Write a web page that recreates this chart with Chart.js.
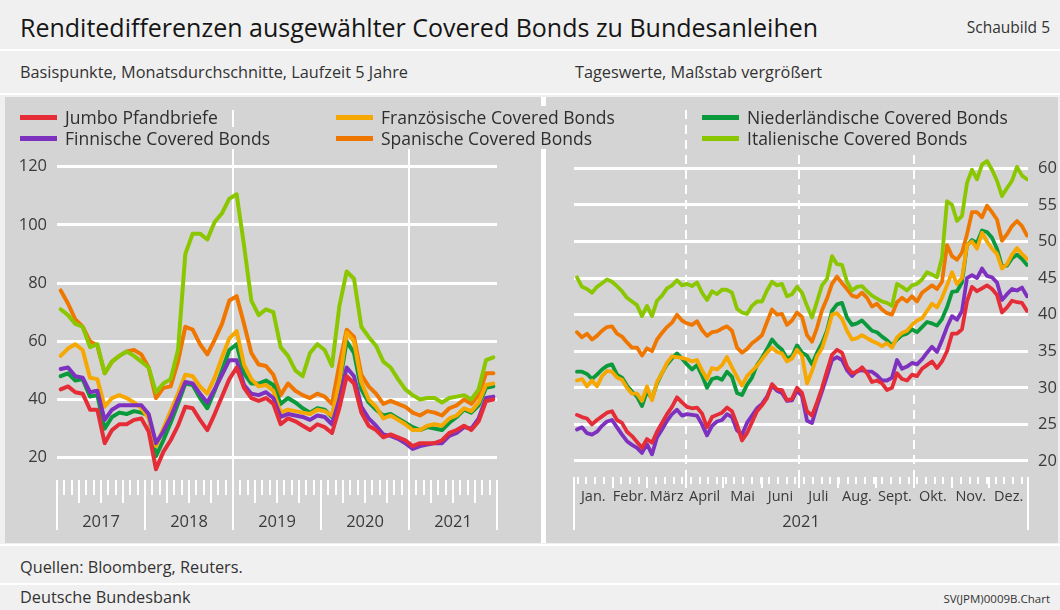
<!DOCTYPE html>
<html lang="de">
<head>
<meta charset="utf-8">
<script src="https://cdn.jsdelivr.net/npm/chart.js@4.4.1/dist/chart.umd.min.js"></script>
<style>
  body { margin: 0; width: 1060px; height: 610px; background: #f0f0f0; position: relative; overflow: hidden;
         font-family: 'Open Sans', 'Noto Sans', sans-serif; color: #333; }
  .abs { position: absolute; white-space: nowrap; }
  .linie { position: absolute; left: 0; width: 1060px; height: 2px; background: #fff; }
  #feld { position: absolute; left: 5px; top: 97px; width: 1053px; height: 446px; background: #d4d4d4; }
  #trenner { position: absolute; left: 541px; top: 97px; width: 5px; height: 446px; background: #fff; }
  canvas { position: absolute; top: 100px; }
  .eintrag { position: absolute; height: 22px; display: flex; align-items: center; background: #d4d4d4;
             padding: 0 3px 0 2px; font-size: 17.5px; color: #2e2e2e; z-index: 3; }
  .eintrag span { display: inline-block; width: 37px; height: 5px; margin-right: 8px; }
</style>
</head>
<body>
<div class="abs" style="left:20px; top:10px; font-size:25px; color:#161616;">Renditedifferenzen ausgewählter Covered Bonds zu Bundesanleihen</div>
<div class="abs" style="right:10px; top:16px; font-size:15.5px;">Schaubild 5</div>
<div class="linie" style="top:49px;"></div>
<div class="abs" style="left:20px; top:61px; font-size:16.3px;">Basispunkte, Monatsdurchschnitte, Laufzeit 5 Jahre</div>
<div class="abs" style="left:575px; top:61px; font-size:16.3px;">Tageswerte, Maßstab vergrößert</div>
<div class="linie" style="top:93px;"></div>
<div id="feld"></div>
<div id="trenner"></div>
<canvas id="links" width="540" height="445" style="left:0px;"></canvas>
<canvas id="rechts" width="517" height="445" style="left:543px;"></canvas>
<div id="legende"></div>
<div class="linie" style="top:544px;"></div>
<div class="abs" style="left:20px; top:556px; font-size:16.3px;">Quellen: Bloomberg, Reuters.</div>
<div class="linie" style="top:583px;"></div>
<div class="abs" style="left:20px; top:586px; font-size:16.3px;">Deutsche Bundesbank</div>
<div class="abs" style="right:10px; top:591px; font-size:11.5px;">SV(JPM)0009B.Chart</div>

<script>
// Monatsdurchschnitte Jan 2017 - Dez 2021
const jahre = ['2017', '2018', '2019', '2020', '2021'];
const jumboM = [43.5,44.5,42.5,42,36.5,36.5,25,29.5,31.5,31.5,33,33.5,29,16,22,26,31,37.5,37,33,
  29.5,35,41,47,51,44,40.5,39.5,40.5,38.5,31.5,33.5,32.5,31,29.5,31.5,30.5,28.5,37,48,
  45.5,35.5,31,29.5,27,28,27,26,24,25,25,25,26,28.5,29.5,31,29.5,32.5,39.5,40];
const finnM = [50.5,51,48,47.5,42.5,43,33,36.5,38,38,38,38,35,25,29,34,40,46,45.5,42,
  39,43.5,48.5,53.5,53.5,45,42,41.5,42.5,40.5,34,35,34.5,34,33,34.5,34,31.5,40,51,
  48,37.5,33.5,31,28,27.5,26.5,25,23,24,24.5,25,25,27.5,28.5,30.5,30,33.5,40.5,41];
const franzM = [55,57.5,59,57,47.5,47,37.5,40.5,41.5,40.5,39,37,33.5,24,30,36,42,48.5,48,44.5,
  42,47.5,54.5,61,63.5,52,47,44.5,45,43,35.5,36.5,36,35.5,35,36.5,36,34.5,46,63,
  60,46,40,37.5,33.5,34.5,33,31.5,29.5,29.5,31,31.5,31,33.5,34.5,37,36,39,45,45.5];
const spanM = [77.5,73,67.5,65,60,58.5,49,53,55,56.5,57,55.5,51,40.5,44,44.5,53,65,64,59,
  55.5,60.5,66,74,75.5,66,56,52,51.5,48.5,41.5,45.5,43,41.5,40.5,42,41,38.5,52,64,
  61.5,48.5,44.5,42,38.5,39.5,38.5,37.5,35.5,34.5,36,35.5,34.5,37,38,40,38.5,41.5,49,49];
const niedM = [48,49,46.5,47,41,41.5,30,34,35.5,35,36,35.5,34.5,20.5,26,32,38.5,45.5,45,40.5,
  37,43,50,57,59,49,45.5,45.5,46.5,45,38.5,40.5,39,37,35.5,37,36.5,34,45,60,
  56,43.5,39,36.5,34.5,35,33.5,32,30.5,29.5,30.5,30,29.5,32,34,36.5,35.5,38,44,44.5];
const italM = [71,69,66,65,58,59,49,53,55,56.5,55,53,51,42.5,45.5,47,57,90,97,97,
  95,101,104,109,110.5,93,74,69,71,70,58,55,50,48,56,59,57,51.5,72,84,
  81.5,65,61.5,58.5,53,51,47,43.5,41.5,40,40.5,40.5,39,40.5,41,41.5,40,43.5,53.5,54.5];

const monate = ['Jan.', 'Febr.', 'März', 'April', 'Mai', 'Juni', 'Juli', 'Aug.', 'Sept.', 'Okt.', 'Nov.', 'Dez.'];
const monatsbeginn = [0, 31, 59, 90, 120, 151, 181, 212, 243, 273, 304, 334, 365];
const tage = Array.from({ length: 91 }, (_, k) => 2.4 + 4.02 * k);
const jumboT = [26.3,26,25.8,25,25.6,26.1,26.6,26.8,25.6,25.2,24,23.4,22.6,21.8,23,22.5,24,25.2,26.4,27.4,28.7,28,27.4,
  27.2,27.3,26.5,24.6,26,26.3,26.6,27.3,26.8,25,22.8,23.8,25.3,26.8,27.6,28.6,30.5,29.8,29.7,28.3,28.5,30,29.3,
  26.8,26.2,28,30,32.3,34.5,35.2,34.8,32.9,32,32.2,32.8,32,30.8,31,30.6,29.7,30,32,31.2,31,31.8,
  31.6,32.6,33.1,33.6,32.7,33.6,35,37.4,37.4,38,41.8,43.8,43.2,43.6,44,43.5,42.7,40.3,41,41.9,41.7,41.6,40.5];
const finnT = [24.3,24.6,23.8,23.6,24,24.8,25.4,25.6,24.6,23.6,22.7,22.2,21.8,21.1,22.3,20.9,23.2,24.3,25.5,26.4,27,26.2,26.4,
  26.3,26.2,25,23.5,24.8,25.4,25.6,26.4,26,24.2,23.6,25.2,26.2,27.2,27.8,28.8,30.3,29.6,29.3,28.2,28.3,29.6,28.9,
  25.5,25.2,27.5,29.5,31.6,33.8,34.2,33.8,32.4,31.6,32.3,32.4,32.2,32.2,31.7,31,31,31.4,33.8,32.6,32.9,33.4,
  33.2,33.9,34.8,35.6,34.9,36.5,38.3,39.8,39.3,40.5,45,45.4,45,46.3,45.3,45.1,44.4,42,42.8,43.5,43.3,43.7,42.5];
const franzT = [31,31.2,30.2,31,30.2,31.6,32.3,32.2,31.4,31.1,30,29.2,29.2,28.2,30.2,28.3,30.8,32,33.4,34.3,34.2,34.1,33.9,
  33.6,33.8,32.4,31.2,32.7,32.5,33.1,34.2,32.8,31.5,30.3,31.6,32.3,33,33.9,34.8,35.5,34.9,34.7,33.6,34,35.2,34.4,
  30.6,32.3,34.3,35.4,37.5,40,40.2,39.4,37.8,36.6,36.8,37.2,36.8,36.4,36.1,35.7,36.1,35.5,36.9,37.5,37.8,38.6,
  39.2,39.5,40.5,41.5,41,42.3,44,45.8,44.2,45,49.5,50,49,51.2,50,49,48.3,46.3,46.9,48.2,49.1,48.3,47.6];
const spanT = [37.6,36.9,37.4,36.6,37.1,37.8,38.3,38.4,37.4,37,36.2,35.5,35.5,34.4,35.4,35,36.6,37.5,38.3,38.9,40,39.2,38.8,
  38.6,39.1,37.9,37.1,37.6,37.7,38.1,38.4,37.8,35.5,34.8,35.3,36.1,36.6,37.2,39,40.7,40,40.1,38.6,39.2,40.3,39.7,
  37.2,36.3,38.2,40.6,42.2,44.2,45.2,44.3,43.5,42.6,42.4,43,42.3,41.1,41.5,40.7,40.2,40,41.7,42.3,41.8,42.5,
  41.8,43,43.5,44,43.5,44.5,49.5,48,47.5,48.5,51,54,54,53.3,54.9,54,53,50.1,51,52.1,52.8,52.1,50.8];
const niedT = [32.2,32.2,31.9,31.2,31.8,32.5,33,33.2,31.8,31.4,30.3,29.5,28.8,27.5,29.5,28.5,30.6,32,33.2,34,34.7,34,33.2,
  32.5,33.1,31.7,30,31.2,31.4,31.1,32.2,31.5,29.3,29,30.4,31.4,33.1,34.1,35.3,36.6,35.8,35.2,34,34.3,35.8,34.8,
  34.4,33.2,34.8,36.1,37.8,40.5,41.4,41.6,39.6,38.6,38.8,39.2,38.5,37.8,37.6,37,36.5,35.8,36.6,37.2,37.4,38,
  37.6,38.3,39,38.8,38.5,39.4,41,43.1,43.2,44.4,49.5,50.2,49.8,51.5,51.3,50.5,49,46.6,46.7,47.7,48.2,47.6,46.8];
const italT = [45.1,43.8,43.5,43,43.8,44.3,44.8,44.5,43.9,43.2,42.3,41.8,41.3,39.8,41.2,39.8,41.9,42.6,43.6,44,44.7,44,44.2,
  43.9,44.4,43,42,43.2,42.8,43.4,43.4,43,40.8,40.3,40.1,41.2,41.8,41.8,43.3,44.5,44,44.2,42.5,42.8,43.8,43,
  41.2,39.6,41.8,44,44.9,48,46.9,46.8,44.5,43.3,43.8,43.9,43.2,42.6,42.2,41.8,41.6,41.2,44.2,43.8,43.3,44,
  44.2,44.8,45.8,45.5,45.1,47.8,55.5,55,52.8,53.5,58,59.8,58.5,60.5,61,59.8,58.3,56.2,57.3,58.3,60.2,59,58.5];

const yTicksLinks = [20, 40, 60, 80, 100, 120];
const yTicksRechts = [20, 25, 30, 35, 40, 45, 50, 55, 60];

const schrift = "'Open Sans', 'Noto Sans', sans-serif";
const textfarbe = '#3a3a3a';

// Reihenfolge der Legende: zeilenweise
const reihen = [
  { name: 'Jumbo Pfandbriefe', farbe: '#e52d38', m: jumboM, t: jumboT, ebene: 2 },
  { name: 'Französische Covered Bonds', farbe: '#f6a700', m: franzM, t: franzT, ebene: 4 },
  { name: 'Niederländische Covered Bonds', farbe: '#0a9a3c', m: niedM, t: niedT, ebene: 5 },
  { name: 'Finnische Covered Bonds', farbe: '#7e30bf', m: finnM, t: finnT, ebene: 3 },
  { name: 'Spanische Covered Bonds', farbe: '#ef7700', m: spanM, t: spanT, ebene: 6 },
  { name: 'Italienische Covered Bonds', farbe: '#8bc700', m: italM, t: italT, ebene: 1 }
];

// Legende
const legPos = [[20, 106], [336, 106], [702, 106], [20, 127], [336, 127], [702, 127]];
const legende = document.getElementById('legende');
reihen.forEach((r, i) => {
  const d = document.createElement('div');
  d.className = 'eintrag';
  d.style.left = (legPos[i][0] - 2) + 'px';
  d.style.top = legPos[i][1] + 'px';
  d.innerHTML = '<span style="background:' + r.farbe + '"></span>' + r.name;
  legende.appendChild(d);
});

function weissStrich(ctx, x, y1, y2, breite) {
  ctx.beginPath();
  ctx.lineWidth = breite;
  ctx.moveTo(x, y1);
  ctx.lineTo(x, y2);
  ctx.stroke();
}

const achseLinks = {
  id: 'achseLinks',
  beforeDatasetsDraw(chart) {
    const { ctx, chartArea: a, scales: { x } } = chart;
    ctx.save();
    ctx.strokeStyle = '#fff';
    [24, 48].forEach(m => weissStrich(ctx, Math.round(x.getPixelForValue(m)), 10, a.bottom + 50, 2));
    ctx.restore();
  },
  afterDraw(chart) {
    const { ctx, chartArea: a, scales: { x } } = chart;
    ctx.save();
    ctx.strokeStyle = '#fff';
    for (let m = 0; m <= 60; m++) {
      if (m === 24 || m === 48) continue;
      const len = m % 12 === 0 ? 50 : (m % 3 === 0 ? 23 : 15);
      weissStrich(ctx, Math.round(x.getPixelForValue(m)), a.bottom, a.bottom + len, 2);
    }
    ctx.fillStyle = textfarbe;
    ctx.font = '16.5px ' + schrift;
    ctx.textAlign = 'center';
    ctx.textBaseline = 'middle';
    jahre.forEach((j, i) => ctx.fillText(j, x.getPixelForValue(i * 12 + 6), a.bottom + 42));
    ctx.restore();
  }
};

const achseRechts = {
  id: 'achseRechts',
  beforeDatasetsDraw(chart) {
    const { ctx, chartArea: a, scales: { x } } = chart;
    ctx.save();
    ctx.strokeStyle = '#fff';
    ctx.setLineDash([9, 6]);
    [90, 181, 273].forEach(d => weissStrich(ctx, Math.round(x.getPixelForValue(d)), 10, a.bottom, 2));
    ctx.restore();
  },
  afterDraw(chart) {
    const { ctx, chartArea: a, scales: { x } } = chart;
    ctx.save();
    ctx.strokeStyle = '#fff';
    for (let d = 3; d < 365; d += 7) weissStrich(ctx, Math.round(x.getPixelForValue(d)), a.bottom, a.bottom + 7, 2);
    monatsbeginn.forEach((d, i) => {
      const len = (i === 0 || i === 12) ? 53 : 11;
      weissStrich(ctx, Math.round(x.getPixelForValue(d)), a.bottom, a.bottom + len, 2);
    });
    ctx.fillStyle = textfarbe;
    ctx.textAlign = 'center';
    ctx.textBaseline = 'middle';
    ctx.font = '14.5px ' + schrift;
    monate.forEach((m, i) => ctx.fillText(m, x.getPixelForValue((monatsbeginn[i] + monatsbeginn[i + 1]) / 2), a.bottom + 20));
    ctx.font = '16.5px ' + schrift;
    ctx.fillText('2021', x.getPixelForValue(182.5), a.bottom + 45);
    ctx.restore();
  }
};

function yAchse(min, max, werte, position, breite) {
  return {
    type: 'linear', position, min, max,
    afterBuildTicks: s => { s.ticks = werte.map(v => ({ value: v })); },
    afterFit: s => { s.width = breite; },
    grid: { color: '#ffffff', lineWidth: 3, drawTicks: false },
    border: { display: false },
    ticks: { color: textfarbe, font: { family: schrift, size: 16.5 }, padding: 10 }
  };
}

function xAchse(min, max, hoehe) {
  return {
    type: 'linear', min, max,
    afterFit: s => { s.height = hoehe; },
    grid: { display: false }, border: { display: false },
    ticks: { display: false }
  };
}

const gemeinsam = {
  responsive: false, animation: false, devicePixelRatio: 1,
  plugins: { legend: { display: false }, tooltip: { enabled: false } },
  elements: { point: { radius: 0 }, line: { tension: 0, borderJoinStyle: 'round', borderCapStyle: 'round' } }
};

new Chart(document.getElementById('links'), {
  type: 'line',
  data: {
    datasets: reihen.map(r => ({
      label: r.name, borderColor: r.farbe, borderWidth: 4, order: r.ebene,
      data: r.m.map((v, i) => ({ x: i + 0.5, y: v }))
    }))
  },
  options: {
    ...gemeinsam,
    layout: { padding: { top: 52, right: 43, left: 0, bottom: 0 } },
    scales: { x: xAchse(0, 60, 65), y: yAchse(12.34, 125.05, yTicksLinks, 'left', 57) }
  },
  plugins: [achseLinks]
});

new Chart(document.getElementById('rechts'), {
  type: 'line',
  data: {
    datasets: reihen.map(r => ({
      label: r.name, borderColor: r.farbe, borderWidth: 3.8, order: r.ebene,
      data: r.t.map((v, i) => ({ x: tage[i], y: v }))
    }))
  },
  options: {
    ...gemeinsam,
    layout: { padding: { top: 52, right: 0, left: 31, bottom: 0 } },
    scales: { x: xAchse(0, 365, 68), y: yAchse(17.81, 62.23, yTicksRechts, 'right', 32) }
  },
  plugins: [achseRechts]
});
</script>
</body>
</html>
